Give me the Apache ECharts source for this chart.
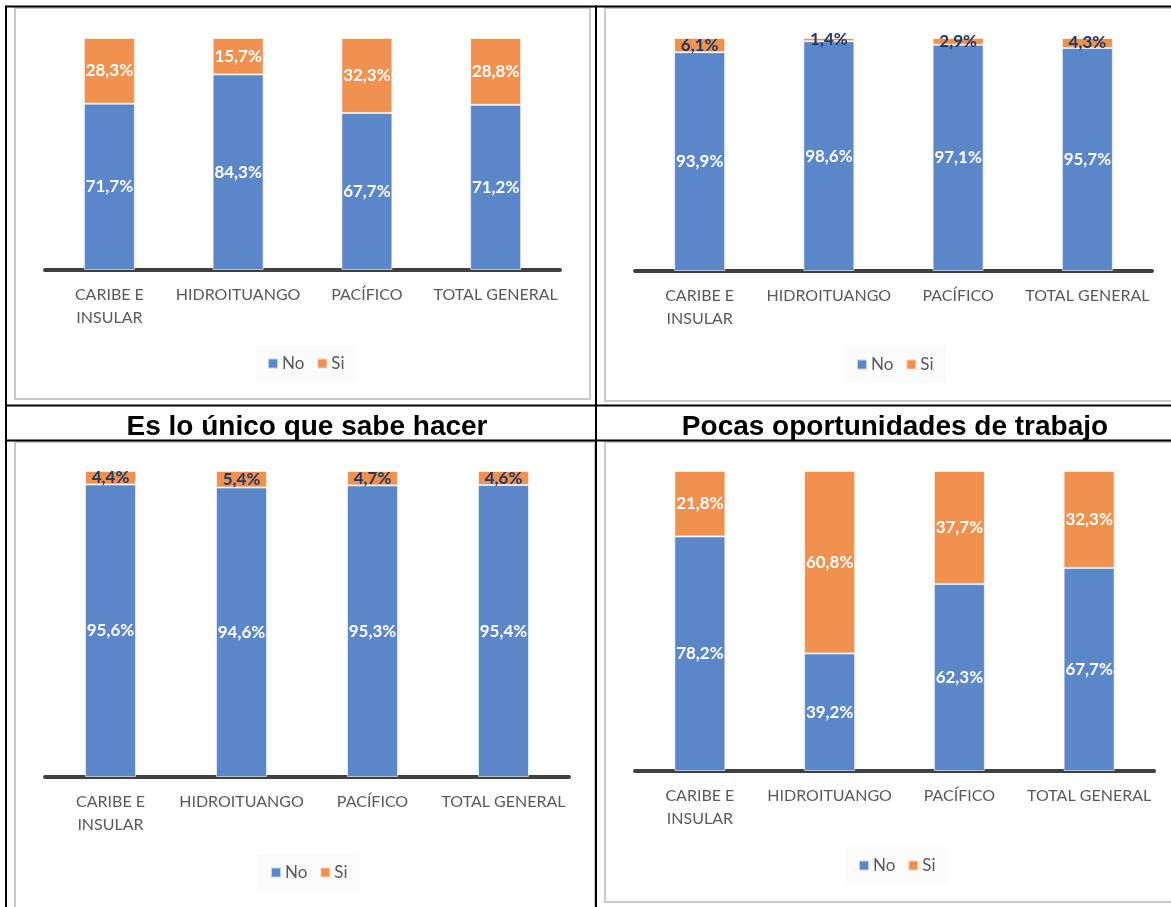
<!DOCTYPE html>
<html>
<head>
<meta charset="utf-8">
<script src="https://cdn.jsdelivr.net/npm/echarts@6/dist/echarts.min.js"></script>
<style>
html,body{margin:0;padding:0;background:#fff;}
#c{width:1171px;height:907px;}
</style>
</head>
<body>
<div id="c"></div>
<script>
var categories = ['CARIBE E INSULAR', 'HIDROITUANGO', 'PACÍFICO', 'TOTAL GENERAL'];
var seriesNames = ['No', 'Si'];
var titles = ['', '', 'Es lo único que sabe hacer', 'Pocas oportunidades de trabajo'];

var chart1No = [71.7, 84.3, 67.7, 71.2];
var chart1Si = [28.3, 15.7, 32.3, 28.8];
var chart2No = [93.9, 98.6, 97.1, 95.7];
var chart2Si = [6.1, 1.4, 2.9, 4.3];
var chart3No = [95.6, 94.6, 95.3, 95.4];
var chart3Si = [4.4, 5.4, 4.7, 4.6];
var chart4No = [78.2, 39.2, 62.3, 67.7];
var chart4Si = [21.8, 60.8, 37.7, 32.3];

var panels = [
  {no: chart1No, si: chart1Si, darkSi: false},
  {no: chart2No, si: chart2Si, darkSi: true},
  {no: chart3No, si: chart3Si, darkSi: true},
  {no: chart4No, si: chart4Si, darkSi: false}
];

var BLUE = '#5B87C9', ORANGE = '#F0914F', DARK = '#1F3864';
var grids = [
  {left: 45, width: 515, top: 38, height: 232},
  {left: 635, width: 517, top: 38, height: 233},
  {left: 45, width: 524, top: 471, height: 306},
  {left: 635, width: 519, top: 471, height: 300}
];
var legendPos = [
  {cx: 307, cy: 364},
  {cx: 896, cy: 365},
  {cx: 310, cy: 873},
  {cx: 898, cy: 866}
];
var titlePos = [null, null, {cx: 302, cy: 425}, {cx: 890, cy: 425}];

function fmt(p) { return p.value.toFixed(1).replace('.', ',') + '%'; }

var option = {
  animation: false,
  backgroundColor: '#fff',
  grid: grids.map(function (g) { return Object.assign({containLabel: false}, g); }),
  xAxis: grids.map(function (g, i) {
    return {
      type: 'category', gridIndex: i, data: categories,
      axisTick: {show: false},
      axisLine: {lineStyle: {color: '#404040', width: 4}},
      axisLabel: {
        interval: 0, margin: 13, color: '#595959',
        fontFamily: 'Lato', fontSize: 16, lineHeight: 23,
        formatter: function (v) { return v === 'CARIBE E INSULAR' ? 'CARIBE E\nINSULAR' : v; }
      }
    };
  }),
  yAxis: grids.map(function (g, i) {
    return {type: 'value', gridIndex: i, min: 0, max: 100, show: false, splitLine: {show: false}};
  }),
  title: [],
  legend: [],
  series: []
};

titlePos.forEach(function (t, i) {
  if (!t) return;
  option.title.push({
    text: titles[i], left: t.cx, top: t.cy - 17, textAlign: 'center',
    textStyle: {fontFamily: 'Liberation Sans', fontWeight: 'bold', fontSize: 28, color: '#000'}
  });
});

legendPos.forEach(function (l) {
  option.legend.push({
    data: seriesNames, left: l.cx - 52, top: l.cy - 19,
    itemWidth: 10, itemHeight: 10, itemGap: 12, icon: 'rect',
    padding: [10, 12, 10, 12], backgroundColor: '#fbfbfb',
    textStyle: {fontFamily: 'Lato', fontSize: 17, color: '#595959', padding: [0, 0, 0, -1]}
  });
});

panels.forEach(function (p, i) {
  option.series.push({
    name: 'No', type: 'bar', stack: 's' + i, xAxisIndex: i, yAxisIndex: i,
    data: p.no, barWidth: 51,
    itemStyle: {color: BLUE, borderColor: 'rgba(255,255,255,0.6)', borderWidth: 1},
    label: {show: true, position: 'inside', color: '#fff', fontFamily: 'Lato', fontWeight: 'bold', fontSize: 17, formatter: fmt}
  });
  option.series.push({
    name: 'Si', type: 'bar', stack: 's' + i, xAxisIndex: i, yAxisIndex: i,
    data: p.si, barWidth: 51,
    itemStyle: {color: ORANGE, borderColor: 'rgba(255,255,255,0.6)', borderWidth: 1},
    label: {show: true, position: 'inside', color: p.darkSi ? DARK : '#fff', fontFamily: 'Lato', fontWeight: 'bold', fontSize: 17, formatter: fmt}
  });
});

var gray = '#c9c9c9';
option.graphic = [
  {type: 'rect', shape: {x: 15, y: 8, width: 575, height: 391}, style: {fill: null, stroke: gray, lineWidth: 2}, z: -1},
  {type: 'rect', shape: {x: 605, y: 8, width: 600, height: 393}, style: {fill: null, stroke: gray, lineWidth: 2}, z: -1},
  {type: 'rect', shape: {x: 15, y: 442, width: 580, height: 500}, style: {fill: null, stroke: gray, lineWidth: 2}, z: -1},
  {type: 'rect', shape: {x: 605, y: 442, width: 600, height: 460}, style: {fill: null, stroke: gray, lineWidth: 2}, z: -1},
  {type: 'line', shape: {x1: 6, y1: 6.5, x2: 1171, y2: 6.5}, style: {stroke: '#000', lineWidth: 2}},
  {type: 'line', shape: {x1: 6, y1: 405.5, x2: 1171, y2: 405.5}, style: {stroke: '#000', lineWidth: 2}},
  {type: 'line', shape: {x1: 6, y1: 440.5, x2: 1171, y2: 440.5}, style: {stroke: '#000', lineWidth: 2}},
  {type: 'line', shape: {x1: 6, y1: 5.5, x2: 6, y2: 907}, style: {stroke: '#000', lineWidth: 2}},
  {type: 'line', shape: {x1: 596, y1: 5.5, x2: 596, y2: 907}, style: {stroke: '#000', lineWidth: 2}}
];

var chart = echarts.init(document.getElementById('c'), null, {renderer: 'canvas'});
chart.setOption(option);
</script>
</body>
</html>
